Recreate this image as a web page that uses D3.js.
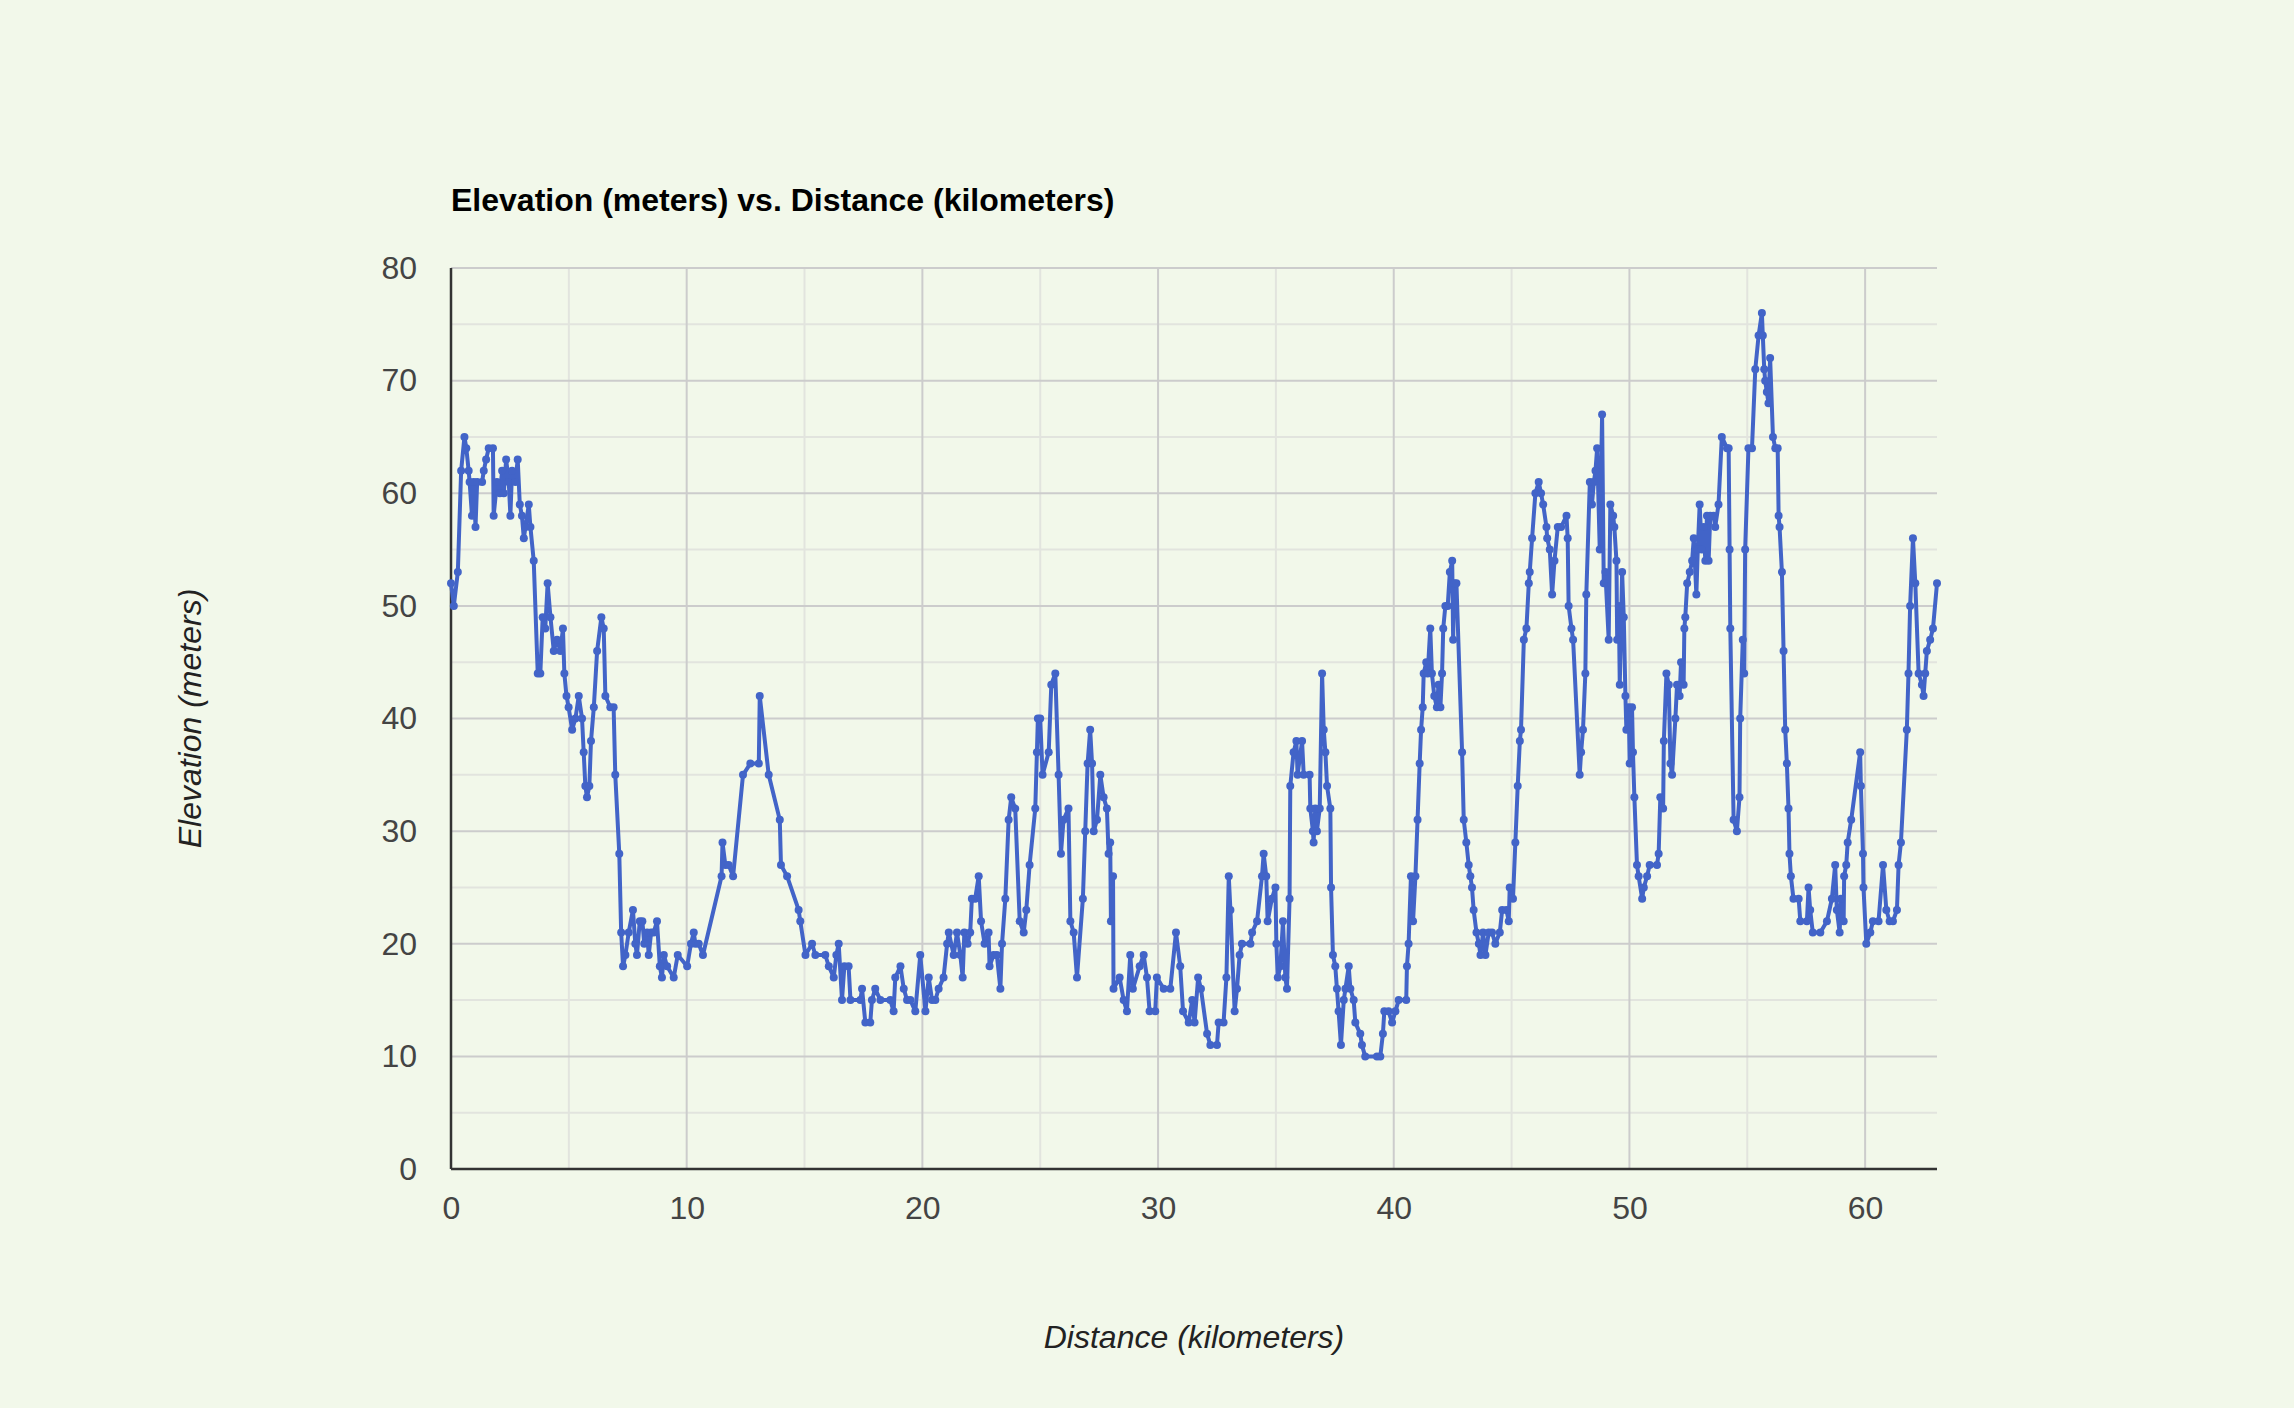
<!DOCTYPE html>
<html><head><meta charset="utf-8">
<script src="https://cdn.jsdelivr.net/npm/d3@7"></script>
<style>
body{margin:0;background:#f2f8ea;}
svg{display:block;}
</style>
</head><body>
<svg id="chart" width="2294" height="1408"></svg>
<script>
const chartTitle = "Elevation (meters) vs. Distance (kilometers)";
const xTitle = "Distance (kilometers)";
const yTitle = "Elevation (meters)";

const distance = [
0,0.12,0.29,0.43,0.57,0.65,0.75,0.79,0.89,0.96,1.04,1.11,1.32,1.39,1.49,1.6,1.78,1.81,1.95,2.07,2.17,2.24,2.34,2.45,2.52,2.59,2.73,2.83,2.92,3.01,3.09,3.16,3.3,3.37,3.51,3.68,3.79,3.89,4.0,4.1,4.22,4.36,4.5,4.64,4.75,4.81,4.9,4.99,5.14,5.28,5.42,5.56,5.63,5.7,5.77,5.87,5.94,6.06,6.2,6.38,6.48,6.55,6.76,6.9,6.97,7.14,7.22,7.3,7.4,7.54,7.72,7.82,7.89,8.01,8.12,8.2,8.32,8.39,8.49,8.6,8.74,8.86,8.95,9.03,9.17,9.45,9.62,10.02,10.18,10.3,
10.37,10.51,10.69,11.48,11.52,11.64,11.78,11.97,12.39,12.7,13.06,13.1,13.48,13.95,14.0,14.26,14.75,14.82,15.04,15.32,15.46,15.88,16.03,16.24,16.35,16.45,16.59,16.69,16.87,16.95,17.37,17.44,17.58,17.79,17.86,18.0,18.22,18.64,18.78,18.85,19.07,19.21,19.35,19.49,19.7,19.91,20.13,20.27,20.41,20.55,20.69,20.9,21.05,21.12,
21.33,21.47,21.61,21.71,21.78,21.92,22.03,22.1,22.24,22.39,22.49,22.64,22.81,22.85,23.02,23.16,23.31,23.38,23.52,23.66,23.77,23.94,24.13,24.3,24.41,24.55,24.79,24.86,24.9,25.0,25.1,25.36,25.47,25.64,25.78,25.88,25.99,26.2,26.28,26.42,26.56,26.81,26.91,27.01,27.12,27.2,27.27,27.41,27.55,27.69,27.83,27.9,27.97,28.0,28.09,28.11,28.37,28.54,28.68,28.82,28.93,29.22,29.39,29.53,29.64,29.88,29.95,30.24,30.52,30.76,30.94,31.06,31.3,
31.45,31.55,31.7,31.82,32.08,32.22,32.5,32.57,32.78,32.9,33.0,33.07,33.25,33.35,33.46,33.56,33.92,33.99,34.2,34.41,34.48,34.59,34.65,34.83,34.98,35.02,35.08,35.19,35.3,35.4,35.47,35.58,35.61,35.75,35.87,35.92,36.11,36.18,36.43,36.46,36.57,36.6,36.67,36.74,36.86,36.96,37.03,37.1,37.17,37.31,37.34,37.42,37.52,37.59,37.66,37.76,37.88,37.95,38.09,38.16,38.3,38.37,38.58,38.65,38.79,39.29,39.43,39.54,39.6,39.78,39.93,40.07,40.21,40.53,40.56,40.63,40.73,40.82,40.92,41.01,41.1,41.16,41.23,41.27,41.38,41.44,41.55,41.62,41.72,41.83,41.9,41.98,42.05,42.1,42.19,42.29,42.38,42.48,42.52,42.57,42.66,
42.9,42.97,43.08,43.18,43.25,43.32,43.39,43.51,43.61,43.68,43.79,43.89,44.03,44.17,44.31,44.5,44.6,44.78,44.88,44.92,45.06,45.16,45.26,45.35,45.4,45.52,45.63,45.73,45.77,45.87,46.01,46.15,46.25,46.34,46.48,46.51,46.62,46.72,46.82,46.96,47.1,47.33,47.38,47.42,47.54,47.61,47.89,47.95,48.03,48.13,48.17,48.32,48.41,48.49,48.56,48.63,48.74,48.84,48.91,48.98,49.12,49.19,49.31,49.36,49.45,49.48,49.55,49.59,49.69,49.76,49.83,49.87,49.97,50.01,50.11,50.15,50.21,50.32,50.39,50.54,50.61,50.75,50.86,51.17,51.24,51.31,51.43,51.46,51.57,51.67,51.74,51.81,51.95,52.02,52.13,52.19,52.3,52.33,52.37,52.45,52.56,52.66,52.73,52.84,52.9,52.98,
53.07,53.15,53.22,53.29,53.36,53.43,53.57,53.64,53.78,53.92,54.14,54.21,54.25,54.28,54.42,54.56,54.67,54.7,54.81,54.87,54.91,55.05,55.2,55.34,55.48,55.62,55.66,55.72,55.76,55.83,55.9,55.97,56.09,56.19,56.29,56.33,56.37,56.47,56.54,56.61,56.68,56.75,56.79,56.85,56.96,57.18,57.25,57.53,57.6,57.67,57.78,58.1,58.38,58.59,58.73,58.8,58.92,58.97,59.09,59.11,59.2,59.26,59.41,59.79,59.82,59.91,59.93,60.05,60.22,60.33,60.57,60.76,60.9,61.04,61.18,61.35,61.42,61.52,61.77,61.84,61.91,62.03,62.13,62.27,62.41,62.48,62.55,62.62,62.76,62.88,63.05
];

const elevation = [
52,50,53,62,65,64,62,61,58,61,57,61,61,62,63,64,64,58,61,60,62,60,63,61,58,62,61,63,59,58,56,57,59,57,54,44,44,49,48,52,49,46,47,46,48,44,42,41,39,40,42,40,37,34,33,34,38,41,46,49,48,42,41,41,35,28,21,18,19,21,23,20,19,22,22,20,21,19,21,21,22,18,17,19,18,17,19,18,20,21,
20,20,19,26,29,27,27,26,35,36,36,42,35,31,27,26,23,22,19,20,19,19,18,17,19,20,15,18,18,15,15,16,13,13,15,16,15,15,14,17,18,16,15,15,14,19,14,17,15,15,16,17,20,21,
19,21,19,17,21,20,21,24,24,26,22,20,21,18,19,19,16,20,24,31,33,32,22,21,23,27,32,37,40,40,35,37,43,44,35,28,31,32,22,21,17,24,30,36,39,36,30,31,35,33,32,28,29,22,26,16,17,15,14,19,16,18,19,17,14,14,17,16,16,21,18,14,13,
15,13,17,16,12,11,11,13,13,17,26,23,14,16,19,20,20,21,22,26,28,26,22,24,25,20,17,18,22,17,16,24,34,37,38,35,38,35,35,32,30,29,32,30,32,44,39,37,34,32,25,19,18,16,14,11,15,16,18,16,15,13,12,11,10,10,10,12,14,14,13,14,15,15,18,20,26,22,26,31,36,39,41,44,45,44,48,44,42,41,43,41,44,48,50,50,53,54,47,52,52,
37,31,29,27,26,25,23,21,20,19,21,19,21,21,20,21,23,23,22,25,24,29,34,38,39,47,48,52,53,56,60,61,60,59,57,56,55,51,54,57,57,58,56,50,48,47,35,37,39,44,51,61,59,61,62,64,55,67,52,53,47,59,58,57,54,47,50,43,53,49,42,39,41,36,41,37,33,27,26,24,25,26,27,27,28,33,32,38,44,43,36,35,40,43,42,45,43,48,49,52,53,54,56,51,55,59,
55,57,54,58,54,58,58,57,59,65,64,64,55,48,31,30,33,40,47,44,55,64,64,71,74,76,74,71,70,69,68,72,65,64,64,58,57,53,46,39,36,32,28,26,24,24,22,22,25,23,21,21,22,24,27,23,21,24,22,26,27,29,31,37,34,28,25,20,21,22,22,27,23,22,22,23,27,29,39,44,50,56,52,44,43,42,44,46,47,48,52
];

const xTickValues = [0,10,20,30,40,50,60];
const yTickValues = [0,10,20,30,40,50,60,70,80];
const xMinorValues = [5,15,25,35,45,55];
const yMinorValues = [5,15,25,35,45,55,65,75];

const data = distance.map((d,i)=>({x:d, y:elevation[i]}));

const W = 2294, H = 1408;
const margin = {left:451, right:357, top:268, bottom:239};
const iw = W - margin.left - margin.right;
const ih = H - margin.top - margin.bottom;

const svg = d3.select("#chart");
svg.append("rect").attr("width",W).attr("height",H).attr("fill","#f2f8ea");

const x = d3.scaleLinear().domain(d3.extent(distance)).range([0, iw]);
const y = d3.scaleLinear().domain([0, 80]).range([ih, 0]);

const g = svg.append("g").attr("transform",`translate(${margin.left},${margin.top})`);
const FONT = "'Liberation Sans', Arial, Helvetica, sans-serif";

// minor gridlines
g.append("g").selectAll("line").data(yMinorValues).join("line")
  .attr("x1",0).attr("x2",iw).attr("y1",d=>y(d)).attr("y2",d=>y(d))
  .attr("stroke","#e2e4de").attr("stroke-width",2);
g.append("g").selectAll("line").data(xMinorValues).join("line")
  .attr("y1",0).attr("y2",ih).attr("x1",d=>x(d)).attr("x2",d=>x(d))
  .attr("stroke","#e2e4de").attr("stroke-width",2);
// major gridlines
g.append("g").selectAll("line").data(yTickValues).join("line")
  .attr("x1",0).attr("x2",iw).attr("y1",d=>y(d)).attr("y2",d=>y(d))
  .attr("stroke","#cccccc").attr("stroke-width",2);
g.append("g").selectAll("line").data(xTickValues).join("line")
  .attr("y1",0).attr("y2",ih).attr("x1",d=>x(d)).attr("x2",d=>x(d))
  .attr("stroke","#cccccc").attr("stroke-width",2);

// axes
const yAxis = d3.axisLeft(y).tickValues(yTickValues).tickSize(0).tickPadding(34).tickFormat(d3.format("d"));
const gy = g.append("g").call(yAxis);
gy.select(".domain").remove();
gy.selectAll("text").attr("font-size",32).attr("font-family",FONT).attr("fill","#444");

const xAxis = d3.axisBottom(x).tickValues(xTickValues).tickSize(0).tickPadding(27).tickFormat(d3.format("d"));
const gx = g.append("g").attr("transform",`translate(0,${ih})`).call(xAxis);
gx.select(".domain").remove();
gx.selectAll("text").attr("font-size",32).attr("font-family",FONT).attr("fill","#444");

// axis baselines
g.append("line").attr("x1",0).attr("x2",0).attr("y1",0).attr("y2",ih).attr("stroke","#333").attr("stroke-width",2.5);
g.append("line").attr("x1",0).attr("x2",iw).attr("y1",ih).attr("y2",ih).attr("stroke","#333").attr("stroke-width",2.5);

// line
const line = d3.line().x(d=>x(d.x)).y(d=>y(d.y));
g.append("path").datum(data).attr("d",line).attr("fill","none")
  .attr("stroke","#4264c8").attr("stroke-width",4).attr("stroke-linejoin","round");
g.append("g").selectAll("circle").data(data).join("circle")
  .attr("cx",d=>x(d.x)).attr("cy",d=>y(d.y)).attr("r",4).attr("fill","#4264c8");

// titles
svg.append("text").attr("x",451).attr("y",211).attr("font-family",FONT)
  .attr("font-size",32).attr("font-weight","bold").attr("fill","#000").text(chartTitle);
svg.append("text").attr("x",margin.left+iw/2).attr("y",1348).attr("text-anchor","middle")
  .attr("font-family",FONT).attr("font-size",32).attr("font-style","italic").attr("fill","#222").text(xTitle);
svg.append("text").attr("transform",`translate(201,${margin.top+ih/2}) rotate(-90)`).attr("text-anchor","middle")
  .attr("font-family",FONT).attr("font-size",32).attr("font-style","italic").attr("fill","#222").text(yTitle);
</script>
</body></html>
